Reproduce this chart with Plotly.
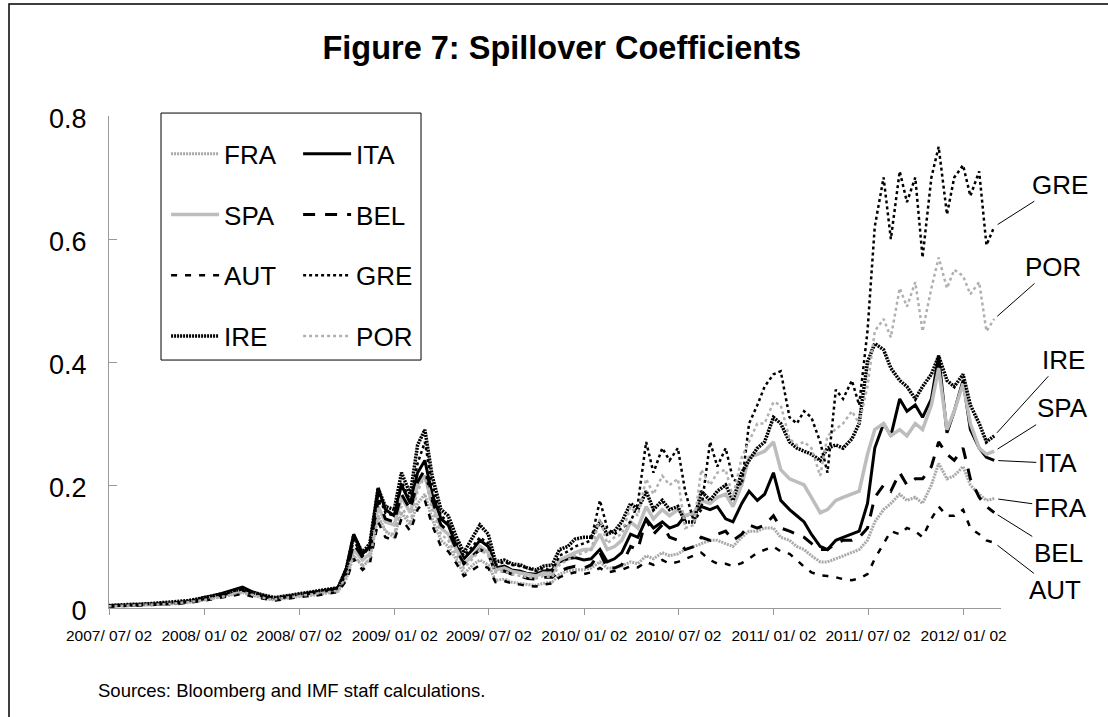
import pandas as pd
import plotly.graph_objects as go

# semi-monthly observations, 2007/07 to 2012/03
dates = pd.date_range("2007-07-01", periods=113, freq="SMS")

fra = [0.003, 0.003, 0.004, 0.004, 0.005, 0.005, 0.006, 0.006, 0.007, 0.007, 0.009, 0.010,
       0.013, 0.015, 0.017, 0.020, 0.023, 0.025, 0.021, 0.018, 0.015, 0.013, 0.015, 0.017,
       0.018, 0.020, 0.021, 0.023, 0.025, 0.027, 0.048, 0.085, 0.068, 0.078, 0.150, 0.125,
       0.115, 0.155, 0.135, 0.170, 0.185, 0.145, 0.110, 0.100, 0.078, 0.055, 0.070, 0.078,
       0.070, 0.045, 0.047, 0.042, 0.040, 0.038, 0.037, 0.040, 0.042, 0.055, 0.060, 0.062,
       0.062, 0.065, 0.075, 0.065, 0.065, 0.068, 0.075, 0.072, 0.085, 0.080, 0.090, 0.085,
       0.088, 0.095, 0.100, 0.105, 0.110, 0.110, 0.105, 0.100, 0.115, 0.125, 0.125, 0.130,
       0.130, 0.115, 0.110, 0.100, 0.095, 0.085, 0.075, 0.075, 0.080, 0.085, 0.090, 0.095,
       0.110, 0.140, 0.160, 0.170, 0.185, 0.175, 0.180, 0.170, 0.200, 0.235, 0.210, 0.215,
       0.230, 0.200, 0.185, 0.175, 0.178]

ita = [0.004, 0.004, 0.005, 0.005, 0.006, 0.006, 0.007, 0.008, 0.008, 0.009, 0.011, 0.013,
       0.017, 0.019, 0.023, 0.027, 0.031, 0.034, 0.027, 0.023, 0.018, 0.016, 0.018, 0.020,
       0.022, 0.024, 0.026, 0.028, 0.030, 0.033, 0.065, 0.120, 0.088, 0.100, 0.195, 0.160,
       0.150, 0.200, 0.170, 0.220, 0.240, 0.185, 0.145, 0.135, 0.100, 0.080, 0.095, 0.110,
       0.100, 0.065, 0.068, 0.062, 0.060, 0.056, 0.055, 0.060, 0.062, 0.075, 0.080, 0.082,
       0.078, 0.080, 0.095, 0.075, 0.080, 0.090, 0.120, 0.115, 0.145, 0.130, 0.140, 0.130,
       0.135, 0.150, 0.155, 0.165, 0.160, 0.165, 0.145, 0.140, 0.170, 0.190, 0.175, 0.185,
       0.220, 0.175, 0.160, 0.150, 0.140, 0.120, 0.100, 0.095, 0.110, 0.115, 0.120, 0.125,
       0.170, 0.260, 0.300, 0.280, 0.340, 0.320, 0.330, 0.310, 0.340, 0.410, 0.285, 0.320,
       0.370, 0.290, 0.260, 0.245, 0.240]

spa = [0.003, 0.004, 0.004, 0.005, 0.005, 0.006, 0.006, 0.007, 0.008, 0.009, 0.010, 0.012,
       0.015, 0.017, 0.020, 0.023, 0.026, 0.028, 0.024, 0.021, 0.017, 0.015, 0.017, 0.019,
       0.021, 0.023, 0.024, 0.026, 0.028, 0.030, 0.055, 0.095, 0.078, 0.088, 0.165, 0.140,
       0.135, 0.180, 0.155, 0.200, 0.215, 0.170, 0.130, 0.120, 0.095, 0.072, 0.085, 0.100,
       0.090, 0.062, 0.065, 0.060, 0.057, 0.055, 0.052, 0.057, 0.056, 0.078, 0.085, 0.090,
       0.095, 0.095, 0.120, 0.095, 0.100, 0.110, 0.140, 0.130, 0.165, 0.145, 0.160, 0.150,
       0.160, 0.150, 0.155, 0.175, 0.170, 0.180, 0.185, 0.165, 0.200, 0.245, 0.250, 0.255,
       0.270, 0.225, 0.210, 0.205, 0.200, 0.180, 0.155, 0.160, 0.175, 0.180, 0.185, 0.190,
       0.250, 0.290, 0.300, 0.280, 0.290, 0.280, 0.300, 0.290, 0.330, 0.390, 0.290, 0.320,
       0.365, 0.300, 0.260, 0.250, 0.255]

bel = [0.003, 0.004, 0.004, 0.005, 0.005, 0.006, 0.006, 0.007, 0.008, 0.008, 0.010, 0.012,
       0.015, 0.017, 0.020, 0.023, 0.027, 0.029, 0.024, 0.021, 0.017, 0.015, 0.017, 0.019,
       0.021, 0.023, 0.025, 0.027, 0.029, 0.031, 0.058, 0.105, 0.082, 0.092, 0.175, 0.145,
       0.140, 0.185, 0.160, 0.205, 0.225, 0.175, 0.135, 0.125, 0.095, 0.072, 0.085, 0.095,
       0.088, 0.058, 0.060, 0.055, 0.052, 0.048, 0.047, 0.050, 0.050, 0.060, 0.065, 0.068,
       0.065, 0.070, 0.090, 0.065, 0.065, 0.070, 0.100, 0.095, 0.145, 0.120, 0.135, 0.115,
       0.110, 0.095, 0.100, 0.115, 0.110, 0.120, 0.125, 0.110, 0.120, 0.135, 0.130, 0.135,
       0.150, 0.130, 0.125, 0.120, 0.115, 0.105, 0.095, 0.095, 0.105, 0.110, 0.110, 0.115,
       0.130, 0.180, 0.200, 0.190, 0.220, 0.200, 0.210, 0.210, 0.230, 0.270, 0.250, 0.240,
       0.260, 0.210, 0.180, 0.165, 0.155]

aut = [0.002, 0.003, 0.003, 0.004, 0.004, 0.005, 0.005, 0.006, 0.006, 0.007, 0.008, 0.010,
       0.012, 0.014, 0.016, 0.018, 0.021, 0.023, 0.019, 0.017, 0.014, 0.012, 0.014, 0.016,
       0.017, 0.019, 0.020, 0.022, 0.024, 0.026, 0.045, 0.080, 0.062, 0.072, 0.140, 0.115,
       0.110, 0.145, 0.125, 0.160, 0.175, 0.135, 0.100, 0.092, 0.072, 0.052, 0.062, 0.070,
       0.065, 0.042, 0.044, 0.040, 0.038, 0.036, 0.035, 0.038, 0.040, 0.050, 0.055, 0.058,
       0.055, 0.058, 0.065, 0.058, 0.060, 0.062, 0.068, 0.066, 0.075, 0.070, 0.078, 0.072,
       0.075, 0.080, 0.085, 0.090, 0.078, 0.072, 0.072, 0.068, 0.073, 0.080, 0.090, 0.095,
       0.100, 0.092, 0.088, 0.078, 0.067, 0.058, 0.053, 0.052, 0.050, 0.047, 0.045, 0.048,
       0.055, 0.080, 0.105, 0.125, 0.120, 0.130, 0.125, 0.115, 0.145, 0.165, 0.150, 0.150,
       0.160, 0.130, 0.120, 0.110, 0.106]

gre = [0.004, 0.004, 0.005, 0.005, 0.006, 0.006, 0.007, 0.007, 0.008, 0.009, 0.011, 0.013,
       0.016, 0.018, 0.021, 0.024, 0.028, 0.030, 0.025, 0.022, 0.018, 0.016, 0.018, 0.020,
       0.022, 0.024, 0.026, 0.028, 0.030, 0.032, 0.062, 0.110, 0.085, 0.100, 0.185, 0.155,
       0.150, 0.205, 0.175, 0.235, 0.270, 0.200, 0.150, 0.140, 0.105, 0.085, 0.100, 0.115,
       0.105, 0.070, 0.075, 0.070, 0.068, 0.065, 0.060, 0.065, 0.060, 0.085, 0.092, 0.100,
       0.105, 0.110, 0.175, 0.130, 0.120, 0.130, 0.140, 0.170, 0.270, 0.220, 0.260, 0.240,
       0.260, 0.190, 0.140, 0.160, 0.270, 0.230, 0.260, 0.210, 0.200, 0.300, 0.330, 0.360,
       0.380, 0.385, 0.310, 0.300, 0.320, 0.310, 0.270, 0.220, 0.355, 0.340, 0.370, 0.330,
       0.450, 0.620, 0.700, 0.600, 0.710, 0.660, 0.700, 0.570, 0.700, 0.750, 0.640, 0.700,
       0.720, 0.670, 0.710, 0.590, 0.620]

ire = [0.004, 0.005, 0.005, 0.006, 0.006, 0.007, 0.007, 0.008, 0.009, 0.010, 0.012, 0.014,
       0.017, 0.019, 0.022, 0.025, 0.029, 0.031, 0.026, 0.023, 0.019, 0.017, 0.019, 0.021,
       0.023, 0.025, 0.027, 0.029, 0.031, 0.033, 0.064, 0.118, 0.090, 0.105, 0.195, 0.165,
       0.160, 0.220, 0.185, 0.265, 0.290, 0.215, 0.160, 0.150, 0.115, 0.090, 0.115, 0.135,
       0.120, 0.075, 0.078, 0.072, 0.070, 0.065, 0.062, 0.068, 0.070, 0.095, 0.100, 0.112,
       0.115, 0.115, 0.140, 0.120, 0.125, 0.140, 0.170, 0.160, 0.190, 0.160, 0.175, 0.160,
       0.165, 0.140, 0.140, 0.190, 0.175, 0.190, 0.200, 0.175, 0.220, 0.240, 0.260, 0.270,
       0.310, 0.300, 0.270, 0.260, 0.255, 0.250, 0.240, 0.260, 0.265, 0.260, 0.275, 0.300,
       0.400, 0.430, 0.420, 0.390, 0.370, 0.360, 0.340, 0.360, 0.380, 0.410, 0.370, 0.360,
       0.380, 0.330, 0.300, 0.270, 0.280]

por = [0.003, 0.003, 0.004, 0.004, 0.005, 0.005, 0.006, 0.006, 0.007, 0.008, 0.009, 0.011,
       0.013, 0.015, 0.018, 0.020, 0.024, 0.026, 0.022, 0.019, 0.015, 0.014, 0.016, 0.017,
       0.019, 0.021, 0.022, 0.024, 0.026, 0.028, 0.052, 0.085, 0.070, 0.080, 0.150, 0.125,
       0.120, 0.165, 0.140, 0.190, 0.215, 0.160, 0.120, 0.110, 0.085, 0.065, 0.080, 0.095,
       0.085, 0.058, 0.060, 0.055, 0.052, 0.050, 0.048, 0.052, 0.050, 0.070, 0.078, 0.085,
       0.090, 0.095, 0.145, 0.105, 0.115, 0.120, 0.165, 0.150, 0.210, 0.185, 0.215, 0.200,
       0.210, 0.130, 0.135, 0.225, 0.200, 0.220, 0.225, 0.180, 0.245, 0.270, 0.300, 0.300,
       0.335, 0.330, 0.275, 0.265, 0.270, 0.260, 0.215, 0.280, 0.290, 0.300, 0.320, 0.300,
       0.360, 0.450, 0.470, 0.440, 0.520, 0.490, 0.530, 0.450, 0.520, 0.570, 0.520, 0.550,
       0.540, 0.510, 0.530, 0.450, 0.470]

tick_dates = ["2007-07-02", "2008-01-02", "2008-07-02", "2009-01-02", "2009-07-02",
              "2010-01-02", "2010-07-02", "2011-01-02", "2011-07-02", "2012-01-02"]
tick_text = ["2007/ 07/ 02", "2008/ 01/ 02", "2008/ 07/ 02", "2009/ 01/ 02", "2009/ 07/ 02",
             "2010/ 01/ 02", "2010/ 07/ 02", "2011/ 01/ 02", "2011/ 07/ 02", "2012/ 01/ 02"]

# name, values, colour, width, dash, legend, label offset (px) from last point
series = [
    ("FRA", fra, "#a8a8a8", 3.0, "2px,1px", "legend", 66, 9),
    ("ITA", ita, "#000000", 3.0, "solid", "legend2", 63, 3),
    ("SPA", spa, "#bdbdbd", 3.5, "solid", "legend", 68, -43),
    ("BEL", bel, "#000000", 3.0, "12px,10px", "legend2", 64, 40),
    ("AUT", aut, "#000000", 2.5, "6px,8px", "legend", 61, 47),
    ("GRE", gre, "#000000", 2.5, "3px,3px", "legend2", 66, -42),
    ("IRE", ire, "#000000", 3.5, "2px,1px", "legend", 69, -76),
    ("POR", por, "#b0b0b0", 2.5, "3px,3px", "legend2", 59, -52),
]

FONT = "Liberation Sans, Arial, sans-serif"

fig = go.Figure()
annotations = []
for name, vals, color, width, dash, leg, ax, ay in series:
    fig.add_trace(go.Scatter(x=dates, y=vals, mode="lines", name=name,
                             legend=leg, legendgroup=name,
                             line=dict(color=color, width=width, dash=dash)))
    annotations.append(dict(x=dates[-1], y=vals[-1], xref="x", yref="y",
                            text=name, showarrow=True, arrowhead=0,
                            arrowwidth=1, arrowcolor="#000000",
                            ax=ax, ay=ay, standoff=4,
                            font=dict(family=FONT, size=26, color="#000000")))

annotations.append(dict(x=0.205, y=-0.167, xref="paper", yref="paper",
                        xanchor="center", yanchor="middle",
                        text="Sources: Bloomberg and IMF staff calculations.",
                        showarrow=False,
                        font=dict(family=FONT, size=18.5, color="#000000")))

legend_style = dict(yanchor="top", xanchor="left", y=0.971,
                    bgcolor="rgba(0,0,0,0)", borderwidth=0,
                    font=dict(family=FONT, size=26, color="#000000"),
                    itemwidth=48, tracegroupgap=24)

fig.update_layout(
    width=1108, height=717,
    margin=dict(l=109, r=107, t=116, b=109),
    paper_bgcolor="white", plot_bgcolor="white",
    title=dict(text="<b>Figure 7: Spillover Coefficients</b>",
               x=0.507, xanchor="center", y=0.933, yanchor="middle",
               font=dict(family=FONT, size=32.5, color="#000000")),
    legend=dict(x=0.064, **legend_style),
    legend2=dict(x=0.212, **legend_style),
    annotations=annotations,
    shapes=[
        # outer frame
        dict(type="rect", xref="paper", yref="paper",
             x0=-0.1121, x1=1.2, y0=-0.3, y1=1.2276,
             line=dict(color="#000000", width=1.5)),
        # legend box
        dict(type="rect", xref="paper", yref="paper",
             x0=0.0583, x1=0.3498, y0=0.504, y1=1.006,
             line=dict(color="#000000", width=1)),
    ],
)

fig.update_xaxes(
    range=["2007-07-02", "2012-03-14"],
    tickvals=tick_dates, ticktext=tick_text, tickangle=0,
    ticks="outside", ticklen=6, tickcolor="#999999",
    showline=True, linecolor="#999999", linewidth=1,
    showgrid=False, zeroline=False, ticklabelstandoff=7,
    tickfont=dict(family=FONT, size=15.5, color="#000000"),
)
fig.update_yaxes(
    range=[0, 0.8],
    tickvals=[0, 0.2, 0.4, 0.6, 0.8], ticktext=["0", "0.2", "0.4", "0.6", "0.8"],
    ticks="inside", ticklen=8, tickcolor="#999999",
    showline=True, linecolor="#999999", linewidth=1,
    showgrid=False, zeroline=False,
    ticklabelstandoff=16, ticklabelshift=3,
    tickfont=dict(family=FONT, size=27, color="#000000"),
)

# drop the page's default body margin so the figure sits at the window corner
fig.write_html("out.html", config={"displayModeBar": False},
               post_script="document.body.style.margin = '0px';")
